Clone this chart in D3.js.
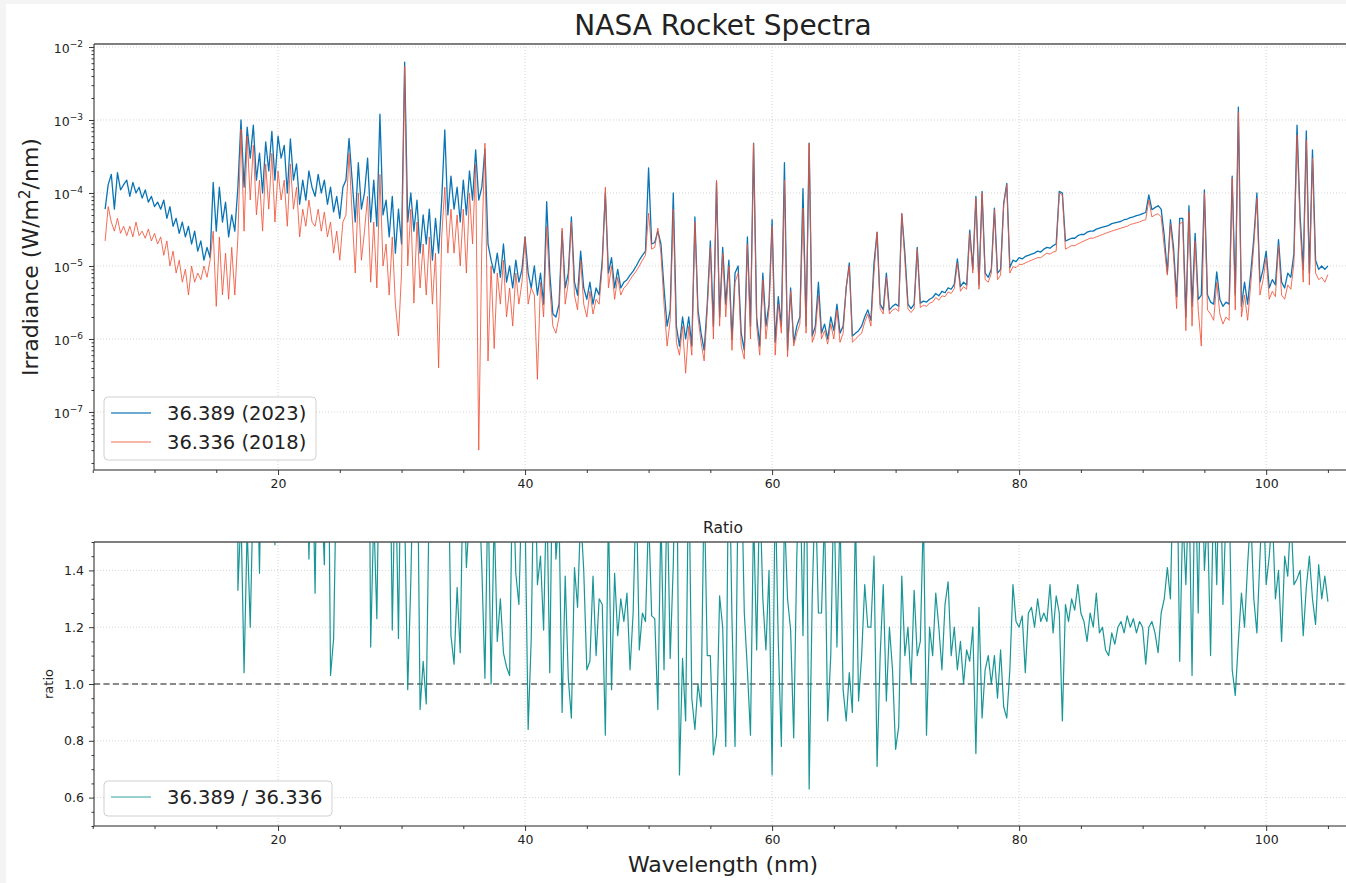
<!DOCTYPE html>
<html lang="en">
<head>
<meta charset="UTF-8">
<title>NASA Rocket Spectra</title>
<script src="https://d3js.org/d3.v7.min.js"></script>
<style>
  body { margin: 0; background: #f4f4f4; }
  svg { display: block; font-family: "DejaVu Sans", sans-serif; }
</style>
</head>
<body>
<svg id="chart" width="1346" height="883"></svg>
<script>
// wavelength grid of the spectra (nm)
const wlStart = 6.0, wlStep = 0.25;

// 36.389 (2023) irradiance, W/m^2/nm, one row per nm (x.00, x.25, x.50, x.75)
const irr2023 = [
  6.0e-5, 1.3e-4, 1.8e-4, 6.0e-5,     // 6
  1.9e-4, 1.1e-4, 1.3e-4, 1.5e-4,     // 7
  9.0e-5, 1.4e-4, 1.0e-4, 1.2e-4,     // 8
  8.5e-5, 1.1e-4, 7.5e-5, 9.0e-5,     // 9
  6.5e-5, 7.5e-5, 6.0e-5, 8.0e-5,     // 10
  4.5e-5, 6.5e-5, 3.5e-5, 4.5e-5,     // 11
  2.8e-5, 4.0e-5, 2.5e-5, 3.5e-5,     // 12
  2.0e-5, 3.0e-5, 1.6e-5, 2.2e-5,     // 13
  1.2e-5, 1.8e-5, 1.3e-5, 1.4e-4,     // 14
  3.0e-5, 1.2e-4, 4.0e-5, 7.5e-5,     // 15
  2.5e-5, 5.0e-5, 3.0e-5, 1.2e-4,     // 16
  1.0e-3, 1.2e-4, 8.0e-4, 3.0e-4,     // 17
  8.5e-4, 1.5e-4, 3.5e-4, 1.0e-4,     // 18
  5.0e-4, 2.0e-4, 7.0e-4, 1.5e-4,     // 19
  6.0e-4, 3.0e-4, 4.5e-4, 1.0e-4,     // 20
  5.5e-4, 1.5e-4, 2.5e-4, 7.0e-5,     // 21
  1.5e-4, 8.0e-5, 2.0e-4, 1.2e-4,     // 22
  9.0e-5, 1.8e-4, 1.0e-4, 1.5e-4,     // 23
  7.0e-5, 1.2e-4, 5.5e-5, 9.0e-5,     // 24
  4.5e-5, 1.2e-4, 1.5e-4, 5.6e-4,     // 25
  1.5e-4, 4.0e-5, 2.6e-4, 6.0e-5,     // 26
  1.0e-4, 3.0e-4, 4.0e-5, 1.5e-4,     // 27
  3.5e-5, 1.2e-3, 5.0e-5, 8.0e-5,     // 28
  2.5e-5, 9.0e-5, 1.5e-5, 6.0e-5,     // 29
  2.0e-5, 6.2e-3, 4.0e-5, 1.0e-4,     // 30
  3.0e-5, 8.0e-5, 1.5e-5, 5.0e-5,     // 31
  2.0e-5, 6.0e-5, 1.2e-5, 4.5e-5,     // 32
  1.5e-5, 8.0e-5, 7.3e-4, 5.0e-5,     // 33
  1.7e-4, 6.0e-5, 1.2e-4, 4.0e-5,     // 34
  1.5e-4, 5.0e-5, 2.0e-4, 8.0e-5,     // 35
  3.9e-4, 8.0e-5, 1.2e-4, 4.0e-4,     // 36
  2.0e-5, 1.2e-5, 8.0e-6, 1.5e-5,     // 37
  7.0e-6, 2.0e-5, 6.0e-6, 1.0e-5,     // 38
  5.0e-6, 1.2e-5, 6.0e-6, 9.0e-6,     // 39
  2.5e-5, 8.0e-6, 5.0e-6, 1.0e-5,     // 40
  4.0e-6, 8.0e-6, 3.0e-6, 7.6e-5,     // 41
  8.0e-6, 2.2e-6, 2.0e-6, 3.0e-6,     // 42
  3.0e-5, 5.0e-6, 8.0e-6, 4.7e-5,     // 43
  6.0e-6, 4.0e-6, 1.6e-5, 5.0e-6,     // 44
  3.5e-6, 6.0e-6, 3.0e-6, 5.0e-6,     // 45
  4.0e-6, 1.2e-5, 1.0e-4, 8.0e-6,     // 46
  1.3e-5, 5.0e-6, 9.0e-6, 5.0e-6,     // 47
  6.0e-6, 6.5e-6, 7.5e-6, 8.5e-6,     // 48
  1.0e-5, 1.2e-5, 1.4e-5, 1.6e-5,     // 49
  2.2e-4, 2.0e-5, 2.1e-5, 3.0e-5,     // 50
  2.0e-5, 5.0e-6, 1.5e-6, 2.5e-6,     // 51
  1.0e-4, 1.5e-6, 8.0e-7, 2.0e-6,     // 52
  1.0e-6, 2.0e-6, 8.0e-7, 4.7e-5,     // 53
  2.5e-6, 1.2e-6, 7.0e-7, 3.0e-6,     // 54
  2.2e-5, 1.5e-6, 1.4e-4, 2.0e-6,     // 55
  1.8e-5, 3.0e-6, 1.2e-5, 1.0e-6,     // 56
  8.0e-6, 1.0e-5, 1.2e-6, 7.0e-7,     // 57
  2.5e-5, 1.5e-6, 4.8e-4, 2.0e-6,     // 58
  8.0e-7, 8.0e-6, 1.5e-6, 3.0e-6,     // 59
  4.3e-5, 9.0e-7, 3.8e-6, 1.5e-6,     // 60
  2.6e-4, 7.0e-7, 5.0e-6, 9.0e-7,     // 61
  1.5e-6, 2.0e-6, 1.15e-4, 1.5e-6,    // 62
  4.8e-4, 1.1e-6, 1.5e-6, 6.0e-6,     // 63
  1.2e-6, 1.6e-6, 1.0e-6, 2.0e-6,     // 64
  1.3e-6, 3.0e-6, 1.2e-6, 1.5e-6,     // 65
  5.0e-6, 1.1e-5, 1.1e-6, 1.2e-6,     // 66
  1.3e-6, 1.5e-6, 2.0e-6, 2.5e-6,     // 67
  1.8e-6, 1.1e-5, 2.9e-5, 3.0e-6,     // 68
  2.5e-6, 8.0e-6, 2.5e-6, 2.8e-6,     // 69
  3.0e-6, 2.8e-6, 5.2e-5, 1.5e-5,     // 70
  3.0e-6, 2.6e-6, 3.0e-6, 1.8e-5,     // 71
  3.1e-6, 3.3e-6, 3.2e-6, 3.5e-6,     // 72
  3.7e-6, 4.2e-6, 3.9e-6, 4.5e-6,     // 73
  4.3e-6, 5.0e-6, 4.8e-6, 5.6e-6,     // 74
  1.25e-5, 5.2e-6, 6.0e-6, 5.5e-6,    // 75
  3.1e-5, 9.0e-6, 9.0e-5, 5.5e-6,     // 76
  1.05e-4, 8.0e-6, 7.0e-6, 9.0e-6,    // 77
  6.2e-5, 8.0e-6, 9.0e-6, 7.2e-5,     // 78
  1.35e-4, 9.5e-6, 1.2e-5, 1.15e-5,   // 79
  1.3e-5, 1.25e-5, 1.35e-5, 1.4e-5,   // 80
  1.45e-5, 1.5e-5, 1.6e-5, 1.55e-5,   // 81
  1.7e-5, 1.8e-5, 1.75e-5, 1.9e-5,    // 82
  2.0e-5, 1.05e-4, 1.0e-4, 2.2e-5,    // 83
  2.3e-5, 2.4e-5, 2.4e-5, 2.6e-5,     // 84
  2.7e-5, 2.7e-5, 2.9e-5, 3.0e-5,     // 85
  3.0e-5, 3.2e-5, 3.3e-5, 3.4e-5,     // 86
  3.5e-5, 3.6e-5, 3.8e-5, 3.9e-5,     // 87
  4.0e-5, 4.1e-5, 4.3e-5, 4.4e-5,     // 88
  4.6e-5, 4.7e-5, 4.9e-5, 5.0e-5,     // 89
  5.2e-5, 5.4e-5, 9.4e-5, 5.9e-5,     // 90
  6.3e-5, 6.7e-5, 6.0e-5, 2.6e-5,     // 91
  8.0e-6, 4.3e-5, 1.8e-5, 3.8e-6,     // 92
  4.5e-5, 4.5e-5, 2.0e-6, 6.7e-5,     // 93
  2.8e-6, 2.8e-5, 3.5e-6, 4.0e-6,     // 94
  1.1e-4, 4.0e-6, 3.2e-6, 3.0e-6,     // 95
  8.3e-6, 3.5e-6, 2.8e-6, 3.2e-6,     // 96
  3.0e-6, 1.7e-4, 4.0e-6, 1.5e-3,     // 97
  2.8e-6, 6.0e-6, 3.0e-6, 8.0e-6,     // 98
  2.4e-5, 1.0e-4, 6.0e-6, 9.0e-6,     // 99
  1.6e-5, 5.0e-6, 6.5e-6, 5.5e-6,     // 100
  2.3e-5, 6.0e-6, 5.0e-6, 8.0e-6,     // 101
  7.0e-6, 1.5e-5, 8.5e-4, 4.8e-5,     // 102
  9.0e-6, 7.1e-4, 8.0e-6, 3.9e-4,     // 103
  1.2e-5, 9.0e-6, 1.0e-5, 9.0e-6,     // 104
  1.0e-5                              // 105
];

// 36.336 (2018) irradiance, same grid
const irr2018 = [
  2.2e-5, 6.5e-5, 4.0e-5, 3.0e-5,     // 6
  4.5e-5, 2.8e-5, 3.5e-5, 2.6e-5,     // 7
  3.5e-5, 2.5e-5, 4.0e-5, 2.6e-5,     // 8
  3.0e-5, 2.4e-5, 3.2e-5, 2.2e-5,     // 9
  2.8e-5, 2.0e-5, 2.5e-5, 1.4e-5,     // 10
  2.2e-5, 1.0e-5, 1.6e-5, 8.0e-6,     // 11
  1.2e-5, 6.0e-6, 9.0e-6, 4.0e-6,     // 12
  1.0e-5, 6.0e-6, 8.0e-6, 6.5e-6,     // 13
  1.0e-5, 7.0e-6, 1.2e-5, 3.0e-5,     // 14
  2.8e-6, 2.5e-5, 4.0e-6, 1.5e-5,     // 15
  3.5e-6, 1.8e-5, 4.0e-6, 2.5e-5,     // 16
  7.5e-4, 3.0e-5, 6.0e-4, 8.0e-5,     // 17
  4.5e-4, 5.0e-5, 1.5e-4, 3.0e-5,     // 18
  2.5e-4, 6.0e-5, 3.5e-4, 4.0e-5,     // 19
  2.0e-4, 8.0e-5, 1.5e-4, 3.5e-5,     // 20
  2.5e-4, 6.0e-5, 1.2e-4, 2.5e-5,     // 21
  6.0e-5, 3.5e-5, 8.0e-5, 4.0e-5,     // 22
  3.5e-5, 6.0e-5, 3.0e-5, 5.5e-5,     // 23
  2.5e-5, 4.0e-5, 1.5e-5, 3.0e-5,     // 24
  1.2e-5, 4.0e-5, 5.0e-5, 3.5e-4,     // 25
  5.0e-5, 8.0e-6, 1.0e-4, 1.2e-5,     // 26
  3.0e-5, 9.0e-5, 6.0e-6, 4.0e-5,     // 27
  5.0e-6, 1.8e-4, 1.0e-5, 2.0e-5,     // 28
  4.0e-6, 2.5e-5, 3.0e-6, 1.1e-6,     // 29
  8.0e-6, 5.5e-3, 1.0e-5, 6.0e-5,     // 30
  3.1e-6, 4.0e-5, 5.0e-6, 2.0e-5,     // 31
  4.0e-6, 2.5e-5, 3.0e-6, 1.5e-5,     // 32
  4.0e-7, 2.5e-5, 1.2e-4, 1.5e-5,     // 33
  6.0e-5, 1.5e-5, 5.0e-5, 1.0e-5,     // 34
  6.0e-5, 8.0e-6, 1.0e-4, 2.0e-5,     // 35
  2.5e-4, 3.0e-8, 2.0e-5, 4.8e-4,     // 36
  5.0e-7, 1.0e-5, 7.4e-7, 8.0e-6,     // 37
  3.0e-6, 1.2e-5, 2.0e-6, 5.0e-6,     // 38
  1.5e-6, 8.0e-6, 3.0e-6, 6.0e-6,     // 39
  2.5e-5, 3.0e-6, 5.0e-6, 4.0e-6,     // 40
  2.8e-7, 6.0e-6, 2.0e-6, 3.5e-5,     // 41
  5.0e-6, 1.5e-6, 1.2e-6, 2.0e-6,     // 42
  3.3e-5, 3.0e-6, 6.0e-6, 4.0e-5,     // 43
  4.0e-6, 2.5e-6, 1.2e-5, 3.0e-6,     // 44
  2.0e-6, 4.5e-6, 2.2e-6, 3.5e-6,     // 45
  3.0e-6, 1.0e-5, 1.2e-4, 5.0e-6,     // 46
  1.0e-5, 3.5e-6, 7.0e-6, 4.0e-6,     // 47
  5.0e-6, 5.5e-6, 6.5e-6, 7.5e-6,     // 48
  8.5e-6, 1.0e-5, 1.2e-5, 1.4e-5,     // 49
  5.3e-5, 1.7e-5, 1.8e-5, 3.3e-5,     // 50
  1.5e-5, 3.0e-6, 8.0e-7, 1.8e-6,     // 51
  6.0e-5, 9.0e-7, 6.0e-7, 1.5e-6,     // 52
  3.4e-7, 1.5e-6, 6.0e-7, 4.0e-5,     // 53
  2.0e-6, 9.0e-7, 5.0e-7, 2.5e-6,     // 54
  1.8e-5, 1.0e-6, 1.5e-4, 1.5e-6,     // 55
  1.5e-5, 2.0e-6, 1.0e-5, 7.0e-7,     // 56
  6.0e-6, 8.0e-6, 8.0e-7, 5.3e-7,     // 57
  2.0e-5, 1.0e-6, 4.8e-4, 1.5e-6,     // 58
  6.0e-7, 6.5e-6, 1.0e-6, 2.5e-6,     // 59
  3.5e-5, 6.0e-7, 3.0e-6, 1.2e-6,     // 60
  1.5e-4, 5.7e-7, 4.5e-6, 8.0e-7,     // 61
  1.2e-6, 1.6e-6, 6.2e-5, 1.2e-6,     // 62
  4.8e-4, 9.0e-7, 1.2e-6, 4.0e-6,     // 63
  1.0e-6, 1.3e-6, 8.5e-7, 1.6e-6,     // 64
  1.0e-6, 2.5e-6, 9.0e-7, 1.2e-6,     // 65
  5.2e-6, 1.0e-5, 9.0e-7, 1.0e-6,     // 66
  1.1e-6, 1.2e-6, 1.7e-6, 2.2e-6,     // 67
  1.5e-6, 8.0e-6, 2.9e-5, 2.6e-6,     // 68
  2.2e-6, 7.0e-6, 2.2e-6, 2.5e-6,     // 69
  2.6e-6, 2.4e-6, 5.2e-5, 1.2e-5,     // 70
  2.6e-6, 2.3e-6, 2.6e-6, 1.7e-5,     // 71
  2.7e-6, 2.9e-6, 2.8e-6, 3.1e-6,     // 72
  3.2e-6, 3.7e-6, 3.4e-6, 3.9e-6,     // 73
  3.8e-6, 4.4e-6, 4.2e-6, 4.9e-6,     // 74
  1.1e-5, 4.5e-6, 5.2e-6, 4.8e-6,     // 75
  2.8e-5, 8.0e-6, 8.5e-5, 4.8e-6,     // 76
  1.0e-4, 6.5e-6, 6.0e-6, 8.0e-6,     // 77
  6.0e-5, 6.5e-6, 7.5e-6, 7.0e-5,     // 78
  1.3e-4, 8.0e-6, 9.8e-6, 9.5e-6,     // 79
  1.05e-5, 1.05e-5, 1.1e-5, 1.15e-5,  // 80
  1.2e-5, 1.25e-5, 1.3e-5, 1.3e-5,    // 81
  1.4e-5, 1.5e-5, 1.45e-5, 1.55e-5,   // 82
  1.6e-5, 1.0e-4, 9.5e-5, 1.7e-5,     // 83
  1.8e-5, 1.9e-5, 1.9e-5, 2.0e-5,     // 84
  2.1e-5, 2.2e-5, 2.3e-5, 2.4e-5,     // 85
  2.4e-5, 2.5e-5, 2.6e-5, 2.7e-5,     // 86
  2.8e-5, 2.9e-5, 3.0e-5, 3.1e-5,     // 87
  3.2e-5, 3.3e-5, 3.4e-5, 3.5e-5,     // 88
  3.7e-5, 3.8e-5, 3.9e-5, 4.0e-5,     // 89
  4.2e-5, 4.3e-5, 8.0e-5, 4.7e-5,     // 90
  5.0e-5, 5.2e-5, 4.7e-5, 1.8e-5,     // 91
  7.5e-6, 3.8e-5, 1.4e-5, 2.6e-6,     // 92
  3.8e-5, 4.0e-5, 1.3e-6, 5.5e-5,     // 93
  1.5e-6, 2.2e-5, 2.5e-6, 8.0e-7,     // 94
  1.0e-4, 2.5e-6, 2.2e-6, 1.8e-6,     // 95
  6.0e-6, 2.2e-6, 1.6e-6, 2.0e-6,     // 96
  1.8e-6, 1.6e-4, 2.5e-6, 1.3e-3,     // 97
  2.0e-6, 4.0e-6, 1.8e-6, 5.5e-6,     // 98
  1.9e-5, 8.5e-5, 4.0e-6, 6.5e-6,     // 99
  1.3e-5, 3.5e-6, 4.5e-6, 3.8e-6,     // 100
  1.9e-5, 4.0e-6, 3.5e-6, 5.5e-6,     // 101
  4.8e-6, 1.1e-5, 6.2e-4, 3.5e-5,     // 102
  6.0e-6, 5.3e-4, 5.5e-6, 3.0e-4,     // 103
  8.0e-6, 6.5e-6, 7.0e-6, 6.0e-6,     // 104
  7.6e-6                              // 105
];

// ratio 36.389 / 36.336, same grid
const ratio = [
  2.7, 2.0, 4.5, 3.7,      // 6
  4.2, 3.9, 3.7, 5.8,      // 7
  2.6, 5.6, 2.5, 4.6,      // 8
  2.8, 4.6, 2.3, 4.1,      // 9
  2.3, 3.8, 2.4, 5.7,      // 10
  2.0, 6.5, 2.2, 5.6,      // 11
  2.3, 6.7, 2.8, 8.8,      // 12
  2.0, 5.0, 2.0, 3.4,      // 13
  1.7, 2.6, 1.8, 4.7,      // 14
  10.7, 4.8, 10.0, 5.0,    // 15
  7.1, 2.8, 7.5, 1.33,     // 16
  1.6, 1.04, 1.55, 1.20,   // 17
  1.7, 1.9, 1.39, 2.1,     // 18
  2.0, 2.2, 1.9, 1.49,     // 19
  2.4, 2.1, 1.8, 2.6,      // 20
  1.9, 2.3, 2.5, 2.1,      // 21
  2.4, 2.0, 1.44, 1.9,     // 22
  1.32, 2.2, 1.7, 1.42,    // 23
  2.3, 1.03, 1.16, 1.8,    // 24
  2.5, 2.8, 1.6, 1.9,      // 25
  2.2, 2.8, 2.4, 2.9,      // 26
  1.9, 2.7, 1.13, 1.6,     // 27
  1.23, 2.0, 2.5, 1.8,     // 28
  2.1, 1.19, 1.8, 1.16,    // 29
  2.0, 1.6, 0.98, 1.36,    // 30
  1.9, 2.0, 0.91, 1.08,    // 31
  0.93, 1.7, 2.4, 1.55,    // 32
  2.2, 1.6, 1.65, 1.9,     // 33
  1.17, 1.07, 1.34, 1.11,  // 34
  1.8, 1.41, 1.6, 1.9,     // 35
  1.55, 1.7, 1.41, 1.02,   // 36
  1.7, 1.0, 1.6, 1.15,     // 37
  1.30, 1.11, 1.06, 1.03,  // 38
  1.8, 1.39, 1.28, 1.7,    // 39
  1.6, 0.84, 1.16, 1.9,    // 40
  1.35, 1.45, 1.19, 1.7,   // 41
  1.04, 1.9, 1.44, 1.6,    // 42
  0.90, 1.38, 1.02, 0.88,  // 43
  1.41, 1.27, 1.6, 1.40,   // 44
  1.05, 1.08, 1.38, 1.10,  // 45
  1.30, 1.28, 0.82, 1.6,   // 46
  0.98, 1.39, 1.17, 1.30,  // 47
  1.22, 1.32, 1.05, 1.25,  // 48
  1.7, 1.12, 1.25, 1.22,   // 49
  1.6, 1.24, 1.23, 0.91,   // 50
  1.6, 1.05, 1.7, 1.09,    // 51
  1.42, 2.0, 0.68, 1.09,   // 52
  0.87, 1.8, 0.95, 0.84,   // 53
  1.0, 0.92, 1.7, 1.10,    // 54
  1.1, 0.75, 0.82, 1.31,   // 55
  1.2, 0.78, 1.9, 1.23,    // 56
  0.78, 1.7, 1.8, 1.25,    // 57
  1.05, 0.82, 1.6, 1.12,   // 58
  1.7, 1.3, 1.12, 1.4,     // 59
  0.68, 1.7, 1.15, 0.78,   // 60
  1.6, 1.3, 1.19, 0.81,    // 61
  1.45, 1.8, 1.17, 1.9,    // 62
  0.63, 1.31, 1.7, 1.25,   // 63
  1.25, 1.6, 0.87, 1.1,    // 64
  1.7, 1.13, 1.6, 0.98,    // 65
  0.87, 1.04, 0.90, 1.6,   // 66
  0.94, 1.1, 1.35, 1.2,    // 67
  1.2, 1.45, 0.71, 1.1,    // 68
  1.35, 0.94, 1.2, 1.05,   // 69
  0.77, 0.85, 1.38, 1.1,   // 70
  1.2, 1.0, 1.33, 1.1,     // 71
  1.15, 1.6, 0.82, 1.2,    // 72
  1.1, 1.32, 1.2, 1.05,    // 73
  1.28, 1.36, 1.1, 1.2,    // 74
  1.05, 1.15, 1.0, 1.12,   // 75
  1.08, 1.2, 0.755, 1.27,  // 76
  0.88, 1.05, 1.1, 1.0,    // 77
  1.1, 0.95, 1.12, 0.92,   // 78
  0.88, 1.05, 1.35, 1.22,  // 79
  1.2, 1.24, 1.04, 1.25,   // 80
  1.27, 1.2, 1.3, 1.22,    // 81
  1.25, 1.22, 1.35, 1.18,  // 82
  1.31, 1.25, 0.87, 1.28,  // 83
  1.22, 1.3, 1.26, 1.35,   // 84
  1.25, 1.22, 1.15, 1.25,  // 85
  1.2, 1.32, 1.18, 1.2,    // 86
  1.12, 1.10, 1.18, 1.14,  // 87
  1.2, 1.22, 1.18, 1.24,   // 88
  1.2, 1.23, 1.18, 1.22,   // 89
  1.2, 1.07, 1.2, 1.22,    // 90
  1.18, 1.11, 1.25, 1.30,  // 91
  1.41, 1.3, 1.8, 1.9,     // 92
  1.08, 1.6, 1.35, 1.7,    // 93
  1.03, 1.8, 1.25, 1.9,    // 94
  1.4, 1.6, 1.10, 1.7,     // 95
  1.35, 1.9, 1.28, 1.6,    // 96
  1.7, 1.05, 0.96, 1.15,   // 97
  1.32, 1.2, 1.42, 1.6,    // 98
  1.3, 1.18, 1.45, 1.7,    // 99
  1.35, 1.45, 1.6, 1.3,    // 100
  1.4, 1.15, 1.45, 1.38,   // 101
  1.6, 1.35, 1.37, 1.4,    // 102
  1.17, 1.34, 1.45, 1.3,   // 103
  1.21, 1.42, 1.3, 1.38,   // 104
  1.29                     // 105
];

// tick labels
const xMajor = [20, 40, 60, 80, 100];
const xMinor = [5, 10, 15, 25, 30, 35, 45, 50, 55, 65, 70, 75, 85, 90, 95, 105];
const logExp = [-7, -6, -5, -4, -3, -2];
const ratioMajor = [0.6, 0.8, 1.0, 1.2, 1.4];

const wl = irr2023.map((_, i) => wlStart + i * wlStep);

const svg = d3.select("#chart");
svg.append("rect").attr("x", 6).attr("y", 4).attr("width", 1340).attr("height", 879).attr("fill", "#fff");

// layout
const L = 94, R = 1352;
const top1 = 44, bot1 = 470, top2 = 542, bot2 = 826;

const x = d3.scaleLinear().domain([5.1, 106.95]).range([L, R]);
const y1 = d3.scaleLog().domain([Math.pow(10, -7.795), Math.pow(10, -1.959)]).range([bot1, top1]);
const y2 = d3.scaleLinear().domain([0.5, 1.5]).range([bot2, top2]);

const ink = "#222";
const gridCol = "#c8c8c8";

// clip paths
const defs = svg.append("defs");
defs.append("clipPath").attr("id", "clip1").append("rect")
    .attr("x", L).attr("y", top1).attr("width", R - L).attr("height", bot1 - top1);
defs.append("clipPath").attr("id", "clip2").append("rect")
    .attr("x", L).attr("y", top2).attr("width", R - L).attr("height", bot2 - top2);

// grid
function vGrid(t, b) {
    svg.append("g").selectAll("line").data(xMajor).enter().append("line")
        .attr("x1", d => x(d)).attr("x2", d => x(d)).attr("y1", t).attr("y2", b)
        .attr("stroke", gridCol).attr("stroke-width", 0.8).attr("stroke-dasharray", "1,2");
}
vGrid(top1, bot1);
vGrid(top2, bot2);
svg.append("g").selectAll("line").data(logExp).enter().append("line")
    .attr("x1", L).attr("x2", R).attr("y1", d => y1(Math.pow(10, d))).attr("y2", d => y1(Math.pow(10, d)))
    .attr("stroke", gridCol).attr("stroke-width", 0.8).attr("stroke-dasharray", "1,2");
svg.append("g").selectAll("line").data(ratioMajor).enter().append("line")
    .attr("x1", L).attr("x2", R).attr("y1", d => y2(d)).attr("y2", d => y2(d))
    .attr("stroke", gridCol).attr("stroke-width", 0.8).attr("stroke-dasharray", "1,2");

// spectra
const line1 = d3.line().x((d, i) => x(wl[i])).y(d => y1(d));
svg.append("path").datum(irr2023).attr("clip-path", "url(#clip1)")
    .attr("d", line1).attr("fill", "none").attr("stroke", "#0a74b5").attr("stroke-width", 1.3)
    .attr("stroke-linejoin", "round");
svg.append("path").datum(irr2018).attr("clip-path", "url(#clip1)")
    .attr("d", line1).attr("fill", "none").attr("stroke", "#f0553a").attr("stroke-opacity", 0.85)
    .attr("stroke-width", 1.0).attr("stroke-linejoin", "round");

// ratio
svg.append("line").attr("x1", L).attr("x2", R).attr("y1", y2(1)).attr("y2", y2(1))
    .attr("stroke", "#666").attr("stroke-width", 1.6).attr("stroke-dasharray", "6,3.5");
const line2 = d3.line().x((d, i) => x(wl[i])).y(d => y2(d));
svg.append("path").datum(ratio).attr("clip-path", "url(#clip2)")
    .attr("d", line2).attr("fill", "none").attr("stroke", "#008b8b").attr("stroke-opacity", 0.9)
    .attr("stroke-width", 1.2).attr("stroke-linejoin", "round");

// axes
function styleAxis(g) {
    g.select(".domain").remove();
    g.selectAll(".tick line").attr("stroke", ink).attr("stroke-width", 0.9);
    g.selectAll(".tick text").attr("fill", ink).attr("font-size", 12.5)
        .attr("font-family", "DejaVu Sans, sans-serif");
}
function xAxes(b) {
    svg.append("g").attr("transform", `translate(0,${b})`)
        .call(d3.axisBottom(x).tickValues(xMajor).tickSize(5).tickPadding(4).tickFormat(d3.format("d")))
        .call(styleAxis);
    svg.append("g").attr("transform", `translate(0,${b})`)
        .call(d3.axisBottom(x).tickValues(xMinor).tickSize(3).tickFormat(""))
        .call(styleAxis);
}
xAxes(bot1);
xAxes(bot2);

// log y axis
const minors = [];
for (let e = -8; e <= -2; e++) {
    for (let m = 2; m <= 9; m++) {
        const v = m * Math.pow(10, e);
        if (v > y1.domain()[0] && v < y1.domain()[1]) minors.push(v);
    }
}
svg.append("g").attr("transform", `translate(${L},0)`)
    .call(d3.axisLeft(y1).tickValues(minors).tickSize(2.5).tickFormat(""))
    .call(styleAxis);
svg.append("g").attr("transform", `translate(${L},0)`)
    .call(d3.axisLeft(y1).tickValues(logExp.map(e => Math.pow(10, e))).tickSize(5).tickFormat(""))
    .call(styleAxis);
const logLab = svg.append("g").attr("fill", ink).attr("font-size", 12.5);
logExp.forEach(e => {
    const t = logLab.append("text").attr("x", 83).attr("y", y1(Math.pow(10, e)) + 6.5)
        .attr("text-anchor", "end");
    t.append("tspan").text("10");
    t.append("tspan").attr("dy", -6.5).attr("font-size", 9).text("\u2212" + Math.abs(e));
});

// ratio y axis
const rMinor = d3.range(10, 31).map(k => k * 0.05).filter(v => !ratioMajor.some(m => Math.abs(m - v) < 1e-6));
svg.append("g").attr("transform", `translate(${L},0)`)
    .call(d3.axisLeft(y2).tickValues(rMinor).tickSize(2.5).tickFormat(""))
    .call(styleAxis);
svg.append("g").attr("transform", `translate(${L},0)`)
    .call(d3.axisLeft(y2).tickValues(ratioMajor).tickSize(5).tickPadding(5).tickFormat(d3.format(".1f")))
    .call(styleAxis);

// spines
function spines(t, b) {
    svg.append("line").attr("x1", L).attr("x2", R).attr("y1", t).attr("y2", t)
        .attr("stroke", "#555").attr("stroke-width", 1.6);
    svg.append("line").attr("x1", L).attr("x2", R).attr("y1", b).attr("y2", b)
        .attr("stroke", ink).attr("stroke-width", 1);
    svg.append("line").attr("x1", L).attr("x2", L).attr("y1", t).attr("y2", b)
        .attr("stroke", ink).attr("stroke-width", 1);
    svg.append("line").attr("x1", R).attr("x2", R).attr("y1", t).attr("y2", b)
        .attr("stroke", "#555").attr("stroke-width", 1.6);
}
spines(top1, bot1);
spines(top2, bot2);

// titles and labels
svg.append("text").attr("x", 723).attr("y", 35).attr("text-anchor", "middle")
    .attr("font-size", 28).attr("fill", ink).text("NASA Rocket Spectra");
svg.append("text").attr("x", 723).attr("y", 533).attr("text-anchor", "middle")
    .attr("font-size", 15.5).attr("fill", ink).text("Ratio");
svg.append("text").attr("x", 723).attr("y", 872).attr("text-anchor", "middle")
    .attr("font-size", 22).attr("fill", ink).text("Wavelength (nm)");

const yl = svg.append("text").attr("transform", `translate(38,${(top1 + bot1) / 2}) rotate(-90)`)
    .attr("text-anchor", "middle").attr("font-size", 22).attr("fill", ink);
yl.append("tspan").text("Irradiance (W/m");
yl.append("tspan").attr("dy", -8).attr("font-size", 15).text("2");
yl.append("tspan").attr("dy", 8).text("/nm)");

svg.append("text").attr("transform", `translate(53,${(top2 + bot2) / 2}) rotate(-90)`)
    .attr("text-anchor", "middle").attr("font-size", 13).attr("fill", ink).text("ratio");

// legends
function legend(x0, y0, w, h, items) {
    const g = svg.append("g");
    g.append("rect").attr("x", x0).attr("y", y0).attr("width", w).attr("height", h).attr("rx", 4)
        .attr("fill", "#fff").attr("fill-opacity", 0.8).attr("stroke", "#d0d0d0");
    items.forEach((it, i) => {
        const cy = y0 + 16 + i * 29;
        g.append("line").attr("x1", x0 + 7).attr("x2", x0 + 47).attr("y1", cy).attr("y2", cy)
            .attr("stroke", it.color).attr("stroke-width", it.width).attr("stroke-opacity", it.op);
        g.append("text").attr("x", x0 + 63).attr("y", cy + 7).attr("font-size", 19.5)
            .attr("fill", ink).text(it.label);
    });
}
legend(104, 397, 212, 63, [
    {label: "36.389 (2023)", color: "#0a74b5", width: 1.3, op: 0.8},
    {label: "36.336 (2018)", color: "#f0553a", width: 1.0, op: 0.85}
]);
legend(104, 781, 228, 35, [
    {label: "36.389 / 36.336", color: "#008b8b", width: 1.2, op: 0.8}
]);
</script>
</body>
</html>
